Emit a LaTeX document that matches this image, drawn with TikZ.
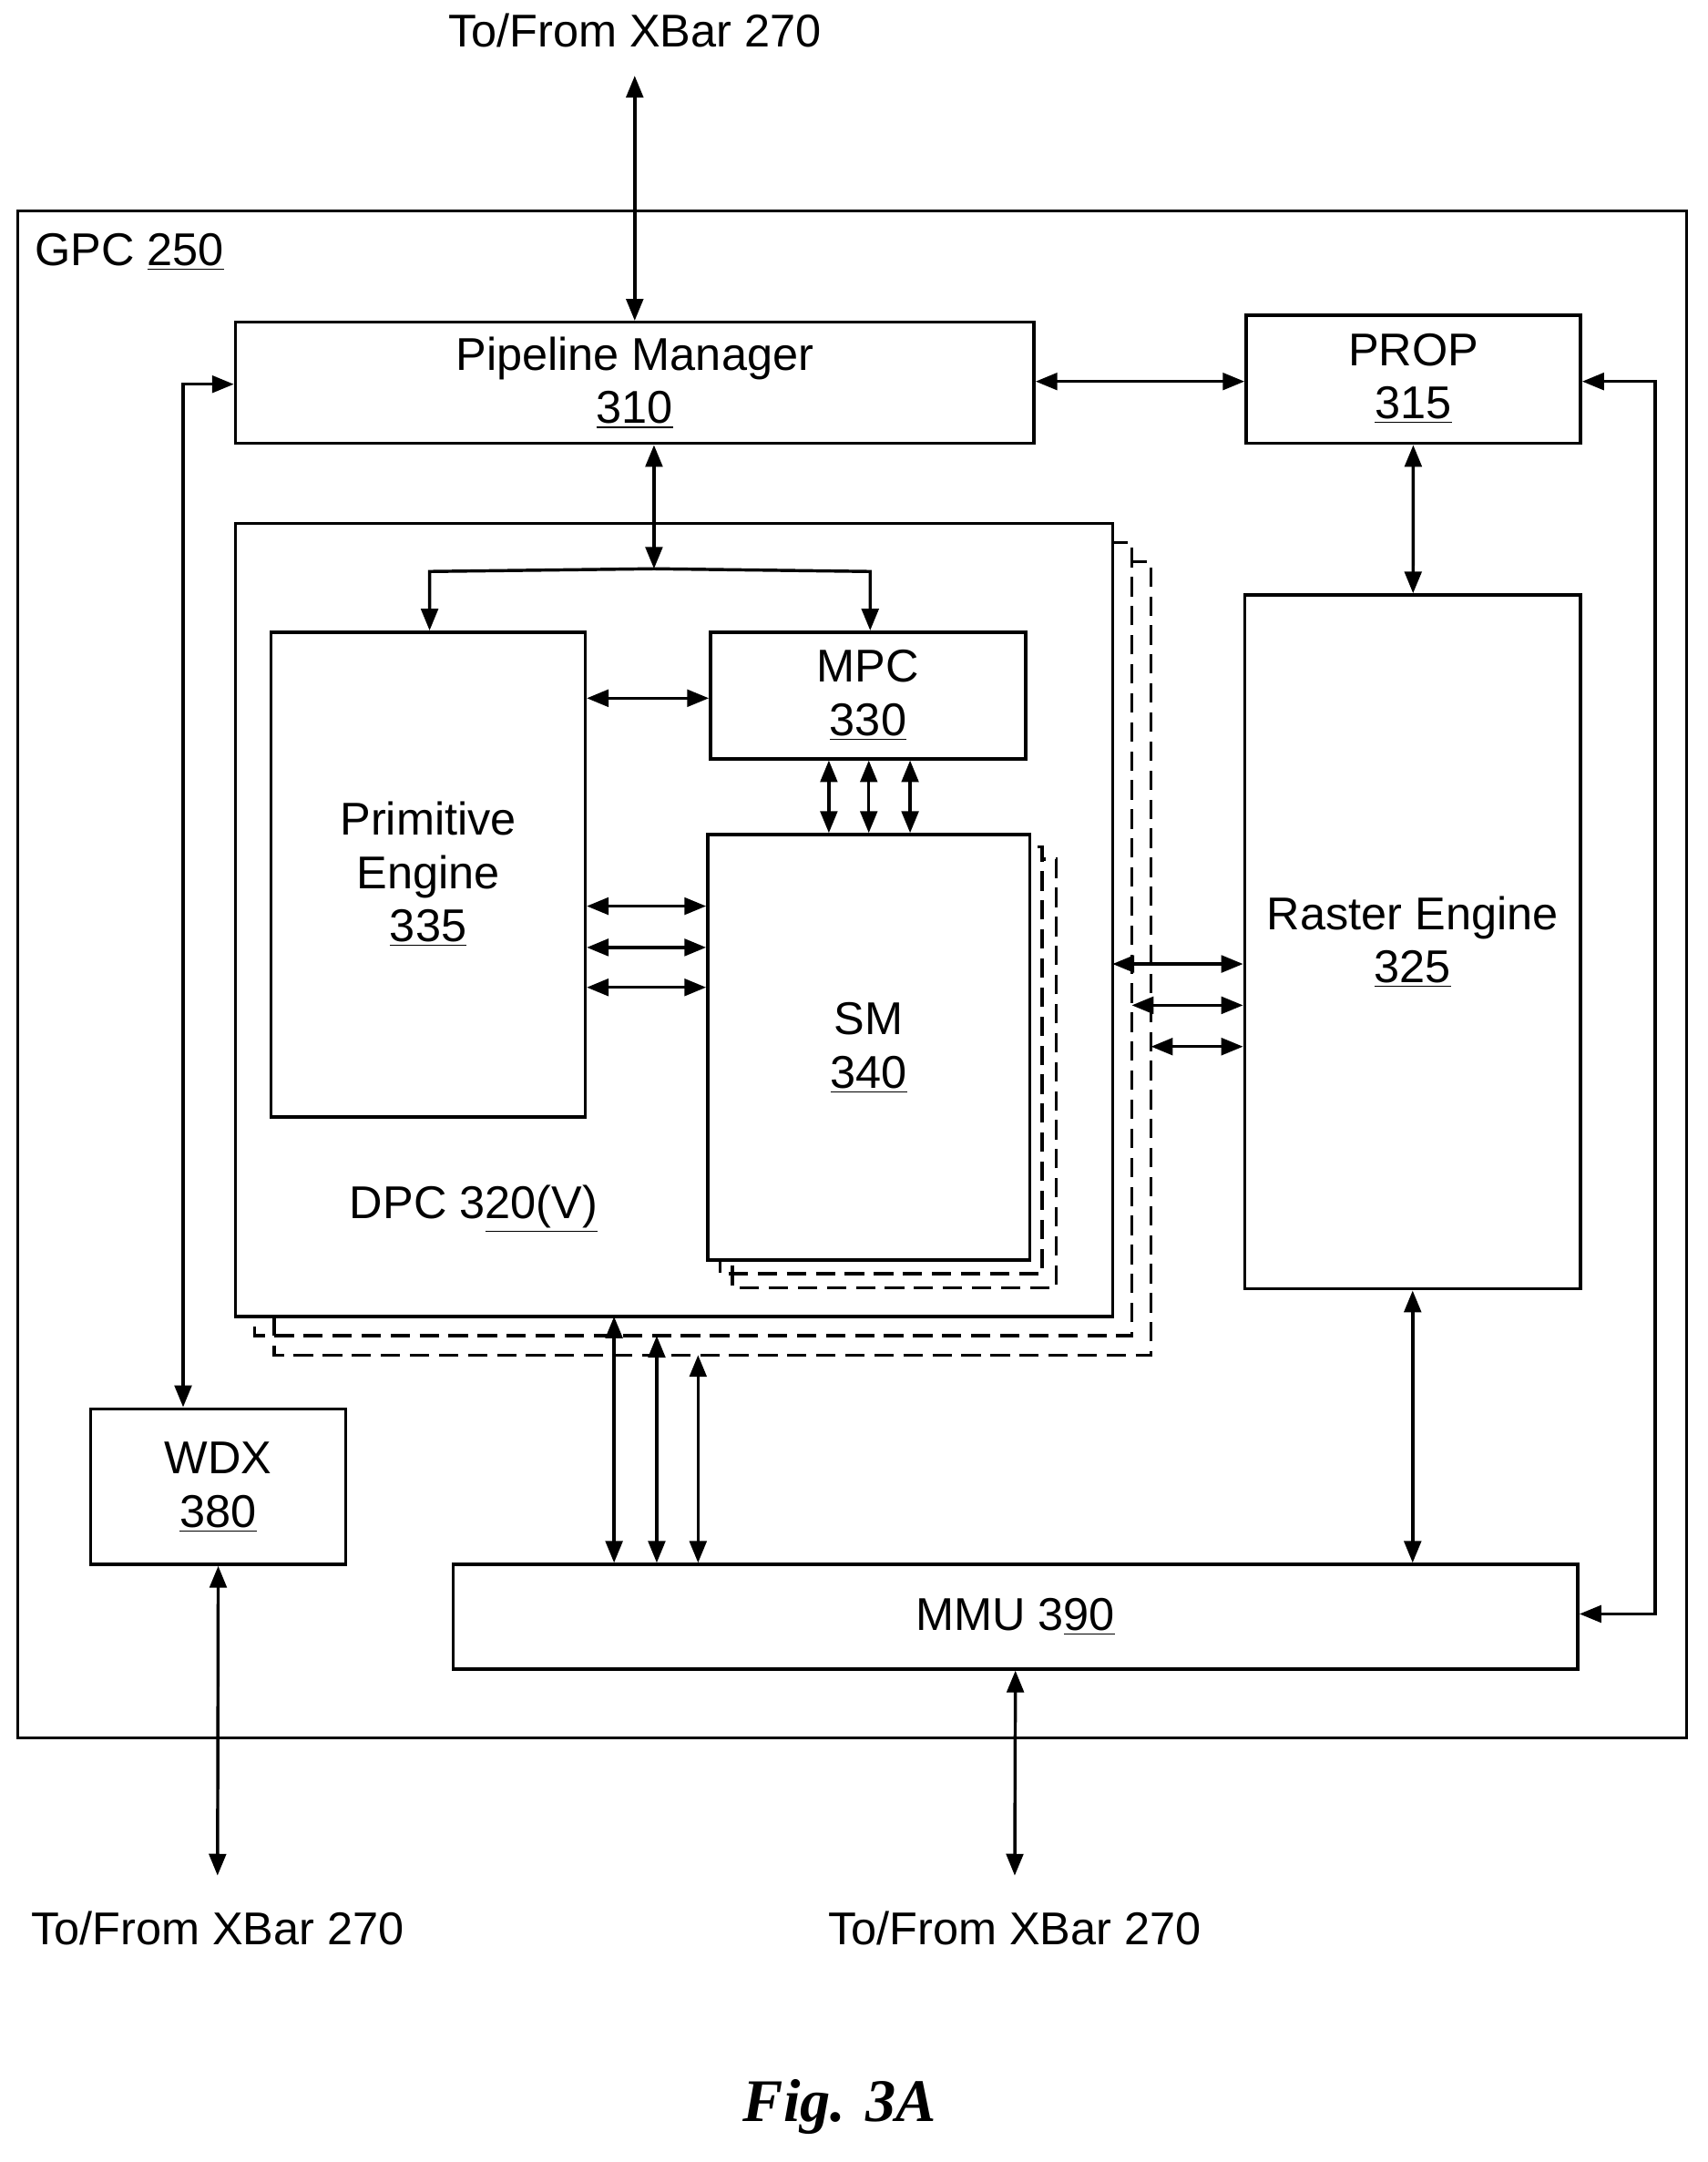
\documentclass[tikz,border=0pt]{standalone}
\usepackage{fontspec}
\setmainfont{Liberation Sans}
\newfontfamily\figfont{Liberation Serif}
\usetikzlibrary{arrows.meta,calc}
\tikzset{
    blk/.style={
        draw,
        line width=1.3pt,
        inner sep=0,
    },
    ghost/.style={
        draw,
        dashed,
        line width=1.3pt,
        dash pattern=on 8pt off 4pt,
    },
    link/.style={
        line width=1.3pt,
        {Triangle[length=9pt,width=7pt]}-{Triangle[length=9pt,width=7pt]},
    },
    oneway/.style={
        line width=1.3pt,
        -{Triangle[length=9pt,width=7pt]},
    },
    lbl/.style={
        font=\fontsize{19}{22}\selectfont,
        align=center,
        inner sep=0,
    },
}

\begin{document}
\begin{tikzpicture}[x=0.02cm,y=-0.02cm]
            \useasboundingbox (0,0) rectangle (1240,1570);

            % boxes
            \draw[blk] (13,153) rectangle (1225,1262);
            \node[lbl, anchor=west] at (25,183) (gpc) {GPC \underline{250}};

            \draw[ghost] (199,408) -- (199,984) -- (836,984) -- (836,408) -- (822,408);
            \draw[ghost] (185,394) -- (185,970) -- (822,970) -- (822,394) -- (808,394);
            \draw[blk, fill=white] (171,380) rectangle (808,956);
            \node[lbl] at (344,878) (dpclabel) {DPC 3\underline{20(V)}};

            \draw[ghost] (532,624) -- (532,935) -- (767,935) -- (767,624) -- (757,624);
            \draw[ghost] (523,615) -- (523,925) -- (757,925) -- (757,615) -- (748,615);
            \draw[blk, fill=white] (514,606) rectangle (748,915);
            \node[blk, draw=none, minimum width=234*0.02cm, minimum height=309*0.02cm] at (631,760.5) (sm) {};
            \node[lbl] at (631,761) {SM\\\underline{340}};

            \node[blk, minimum width=580*0.02cm, minimum height=88*0.02cm] at (461,278) (pm) {};
            \node[lbl] at (461,278) {Pipeline Manager\\\underline{310}};
            \node[blk, minimum width=243*0.02cm, minimum height=93*0.02cm] at (1026.5,275.5) (prop) {};
            \node[lbl] at (1026.5,275) {PROP\\\underline{315}};
            \node[blk, minimum width=244*0.02cm, minimum height=504*0.02cm] at (1026,684) (raster) {};
            \node[lbl] at (1026,684) {Raster Engine\\\underline{325}};
            \node[blk, minimum width=228*0.02cm, minimum height=352*0.02cm] at (311,635) (prim) {};
            \node[lbl] at (311,635) {Primitive\\Engine\\\underline{335}};
            \node[blk, minimum width=229*0.02cm, minimum height=92*0.02cm] at (630.5,505) (mpc) {};
            \node[lbl] at (630.5,505) {MPC\\\underline{330}};
            \node[blk, minimum width=185*0.02cm, minimum height=113*0.02cm] at (158.5,1079.5) (wdx) {};
            \node[lbl] at (158.5,1080) {WDX\\\underline{380}};
            \node[blk, minimum width=817*0.02cm, minimum height=76*0.02cm] at (737.5,1174) (mmu) {};
            \node[lbl] at (737.5,1174) {MMU 3\underline{90}};

            % outside labels
            \node[lbl] at (461,22) (xbartop) {To/From XBar 270};
            \node[lbl] at (158,1400) (xbarleft) {To/From XBar 270};
            \node[lbl] at (737,1400) (xbarright) {To/From XBar 270};
            \node[font=\figfont\bfseries\itshape\fontsize{25}{30}\selectfont] at (610,1530) (fig) {Fig. 3A};

            \coordinate (topend) at (461,55);
            \coordinate (leftend) at (158,1362);
            \coordinate (rightend) at (737,1362);
            \coordinate (branch) at (475,413);

            % connectors
            \draw[link] (topend) -- (pm.north);
            \draw[link] (pm.west |- 0,279) -- (133,279) -- (wdx.north -| 133,0);
            \draw[link] (pm.east |- 0,277) -- (prop.west |- 0,277);
            \draw[link] (pm.south -| branch) -- (branch);
            \draw[oneway] (branch) -- (312,415) -- (prim.north -| 312,0);
            \draw[oneway] (branch) -- (632,415) -- (mpc.north -| 632,0);
            \draw[link] (prim.east |- 0,507) -- (mpc.west |- 0,507);
            \foreach \x in {602,631,661}
                \draw[link] (mpc.south -| \x,0) -- (sm.north -| \x,0);
            \foreach \y in {658,688,717}
                \draw[link] (prim.east |- 0,\y) -- (sm.west |- 0,\y);
            \draw[link] (808,700) -- (raster.west |- 0,700);
            \draw[link] (822,730) -- (raster.west |- 0,730);
            \draw[link] (836,760) -- (raster.west |- 0,760);
            \draw[link] (446,956) -- (mmu.north -| 446,0);
            \draw[link] (477,970) -- (mmu.north -| 477,0);
            \draw[link] (507,984) -- (mmu.north -| 507,0);
            \draw[link] (prop) -- (raster);
            \draw[link] (raster.south) -- (mmu.north -| raster.south);
            \draw[link] (prop.east |- 0,277) -- (1202,277) -- (1202,1172) -- (mmu.east |- 0,1172);
            \draw[link] (wdx.south) -- (leftend);
            \draw[link] (mmu.south) -- (rightend);
        \end{tikzpicture}
\end{document}
